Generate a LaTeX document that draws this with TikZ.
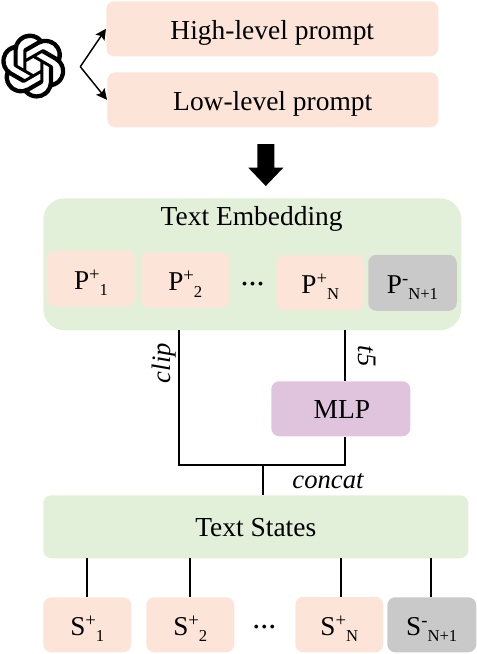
\documentclass[tikz,border=0pt]{standalone}
\usepackage{fontspec}
\setmainfont{Liberation Serif}
\usetikzlibrary{svg.path,arrows.meta}
\definecolor{peach}{HTML}{FCE5D8}
\definecolor{sage}{HTML}{E2F0D9}
\definecolor{greybox}{HTML}{C9C9C9}
\definecolor{mauve}{HTML}{E0C4DE}
% text whose baseline lies a given distance below the node centre
\newcommand{\tx}[2]{\raisebox{-#1}[0pt][0pt]{#2}}
\newcommand{\supsub}[3]{\tx{7.9pt}{\fontsize{20.4pt}{20pt}\selectfont #1\raisebox{6.6pt}{\fontsize{14pt}{14pt}\selectfont #2}\raisebox{-5pt}{\fontsize{12.5pt}{12.5pt}\selectfont #3}}}
\tikzset{
  x=0.75pt,y=-0.75pt,
  boxbase/.style={inner sep=0pt,rounded corners=6pt,anchor=north west,align=center,font=\fontsize{20.6pt}{22pt}\selectfont},
  peachbox/.style={boxbase,fill=peach},
  greyedbox/.style={boxbase,fill=greybox},
  link/.style={line width=1.05pt},
  lab/.style={font=\fontsize{20pt}{22pt}\selectfont\itshape,inner sep=0pt},
  dotstext/.style={font=\fontsize{24pt}{26pt}\selectfont,inner sep=0pt},
  forkarrow/.style={line width=1.1pt,-{Stealth[length=8pt,width=8pt,inset=1.5pt]}},
}
\newcommand{\bx}[7]{\node[#1,minimum width=#6*0.75pt,minimum height=#7*0.75pt] (#2) at (#4,#5) {#3};}
\begin{document}
\begin{tikzpicture}
\useasboundingbox (0,0) rectangle (476,654);
% logo
\begin{scope}[shift={(0.8,33.6)}]
\path[fill=black,even odd rule,xscale=2.03,yscale=-2.03]
 svg{M 22.2819 9.8211 a 5.9847 5.9847 0 0 0 -0.5157 -4.9108 a 6.0462 6.0462 0 0 0 -6.5098 -2.9 A 6.0651 6.0651 0 0 0 4.9807 4.1818 a 5.9847 5.9847 0 0 0 -3.9977 2.9 a 6.0462 6.0462 0 0 0 0.7427 7.0966 a 5.98 5.98 0 0 0 0.511 4.9107 a 6.051 6.051 0 0 0 6.5146 2.9001 A 5.9847 5.9847 0 0 0 13.2599 24 a 6.0557 6.0557 0 0 0 5.7718 -4.2058 a 5.9894 5.9894 0 0 0 3.9977 -2.9001 a 6.0557 6.0557 0 0 0 -0.7475 -7.0729 z
 M 13.2599 22.4292 a 4.4755 4.4755 0 0 1 -2.8764 -1.0408 l 0.1419 -0.0804 l 4.7783 -2.7582 a 0.7948 0.7948 0 0 0 0.3927 -0.6813 v -6.7369 l 2.02 1.1686 a 0.071 0.071 0 0 1 0.038 0.052 v 5.5826 a 4.504 4.504 0 0 1 -4.4945 4.4944 z
 M 3.5992 18.3038 a 4.4708 4.4708 0 0 1 -0.5346 -3.0137 l 0.142 0.0852 l 4.783 2.7582 a 0.7712 0.7712 0 0 0 0.7806 0 l 5.8428 -3.3685 v 2.3324 a 0.0804 0.0804 0 0 1 -0.0332 0.0615 L 9.74 19.9502 a 4.4992 4.4992 0 0 1 -6.1408 -1.6464 z
 M 2.3408 7.8956 a 4.485 4.485 0 0 1 2.3655 -1.9728 V 11.6 a 0.7664 0.7664 0 0 0 0.3879 0.6765 l 5.8144 3.3543 l -2.0201 1.1685 a 0.0757 0.0757 0 0 1 -0.071 0 l -4.8303 -2.7865 A 4.504 4.504 0 0 1 2.3408 7.872 z
 M 18.9371 11.7514 L 13.1038 8.364 L 15.1192 7.2 a 0.0757 0.0757 0 0 1 0.071 0 l 4.8303 2.7913 a 4.4944 4.4944 0 0 1 -0.6765 8.1042 v -5.6772 a 0.79 0.79 0 0 0 -0.407 -0.667 z
 M 20.9478 8.7283 l -0.142 -0.0852 l -4.7735 -2.7818 a 0.7759 0.7759 0 0 0 -0.7854 0 L 9.409 9.2297 V 6.8974 a 0.0662 0.0662 0 0 1 0.0284 -0.0615 l 4.8303 -2.7866 a 4.4992 4.4992 0 0 1 6.6802 4.66 z
 M 8.3065 12.863 l -2.02 -1.1638 a 0.0804 0.0804 0 0 1 -0.038 -0.0567 V 6.0742 a 4.4992 4.4992 0 0 1 7.3757 -3.4537 l -0.142 0.0805 L 8.704 5.459 a 0.7948 0.7948 0 0 0 -0.3927 0.6813 z
 M 9.4041 10.4976 l 2.602 -1.4998 l 2.6069 1.4998 v 2.9994 l -2.5974 1.4997 l -2.6067 -1.4997 Z};
\end{scope}
% prompts
\node[peachbox,minimum width=332*0.75pt,minimum height=55*0.75pt] (high) at (106,1) {\tx{7.9pt}{High-level prompt}};
\node[peachbox,minimum width=331*0.75pt,minimum height=55*0.75pt] (low) at (107,72) {\tx{7.9pt}{Low-level prompt}};
\coordinate (fork) at (80.3,66.7);
\draw[forkarrow] (fork) -- (high.west);
\draw[forkarrow] (fork) -- (low.west);
% big arrow
\fill (257.3,144) -- (274.3,144) -- (274.3,167.7) -- (283.3,167.7) -- (265.8,186) -- (248.3,167.7) -- (257.3,167.7) -- cycle;
% embedding
\node[boxbase,fill=sage,rounded corners=16pt,minimum width=418*0.75pt,minimum height=132*0.75pt] (te) at (43,198) {};
\node[font=\fontsize{20.6pt}{22pt}\selectfont,inner sep=0pt] (tetitle) at (251.7,225) {\raisebox{0pt}[0pt][0pt]{Text Embedding}};
\bx{peachbox}{p1}{\supsub{P}{+}{1}}{46.5}{250.5}{88.5}{55.5}
\bx{peachbox}{p2}{\supsub{P}{+}{2}}{141}{252}{88}{55.5}
\bx{peachbox}{pn}{\supsub{P}{+}{N}}{276}{255}{88}{55}
\bx{greyedbox}{pm}{\supsub{P}{-}{N+1}}{368}{254.5}{88.5}{56}
\node[dotstext] (pdots) at (252.5,285) {\raisebox{0pt}[0pt][0pt]{...}};
% MLP and states
\node[boxbase,fill=mauve,minimum width=139*0.75pt,minimum height=55*0.75pt] (mlp) at (271,381) {\hspace{1.6pt}\tx{7.2pt}{MLP}};
\node[boxbase,fill=sage,minimum width=425*0.75pt,minimum height=63*0.75pt] (ts) at (43,495) {\tx{7.6pt}{Text States}};
% connectors
\coordinate (clipTop) at (179,330);
\coordinate (tfTop) at (345,330);
\coordinate (clipLow) at (179,465);
\coordinate (tfLow) at (345,465);
\coordinate (joint) at (263,465);
\draw[link] (clipTop) -- (clipLow) -- (tfLow) -- (tfLow |- mlp.south);
\draw[link] (tfTop) -- (tfTop |- mlp.north);
\draw[link] (joint) -- (joint |- ts.north);
\node[lab,rotate=90] (cliplab) at (170,363) {\raisebox{0pt}[0pt][0pt]{clip}};
\node[lab,rotate=-90] (tflab) at (358.3,356) {\raisebox{0pt}[0pt][0pt]{t5}};
\node[lab] (concat) at (328,488) {\raisebox{0pt}[0pt][0pt]{concat}};
% state boxes
\bx{peachbox}{s1}{\supsub{S}{+}{1}}{43}{597}{88}{55}
\bx{peachbox}{s2}{\supsub{S}{+}{2}}{146}{597}{88}{55}
\bx{peachbox}{sn}{\supsub{S}{+}{N}}{295}{596.5}{88}{55.5}
\bx{greyedbox}{sm}{\supsub{S}{-}{N+1}}{387}{597}{89}{55}
\node[dotstext] (sdots) at (264.3,628.5) {\raisebox{0pt}[0pt][0pt]{...}};
\draw[link] (87,558) coordinate (a1) -- (a1 |- s1.north);
\draw[link] (190,558) coordinate (a2) -- (a2 |- s2.north);
\draw[link] (341,558) coordinate (a3) -- (a3 |- sn.north);
\draw[link] (431,558) coordinate (a4) -- (a4 |- sm.north);
\end{tikzpicture}
\end{document}
